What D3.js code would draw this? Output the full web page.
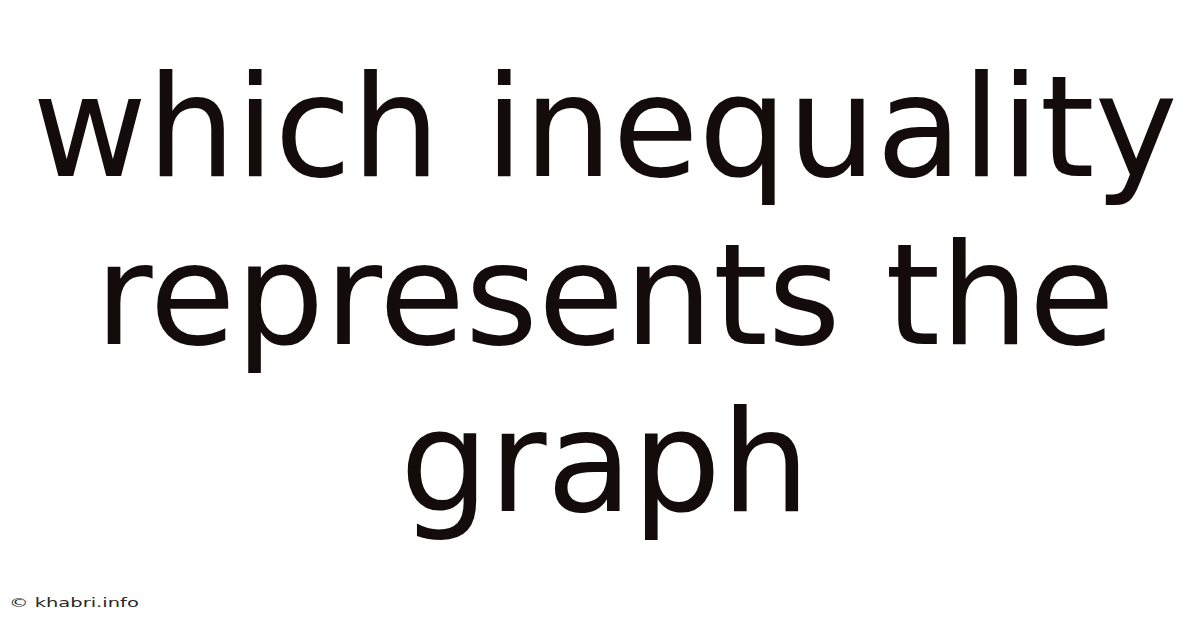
<script src="https://d3js.org/d3.v7.min.js"></script>

<style>
  body { margin: 0; background: #fff; }
</style>

<body>
  <div id="vis"></div>
</body>

<script>
  // Title lines and footer text
  const titleLines = ['which inequality', 'represents the', 'graph']
  const footerText = '\u00a9 khabri.info'

  const width = 1200
  const height = 628

  let svg = d3.select('#vis')
    .append('svg')
    .attr('width', width)
    .attr('height', height)

  svg.append('rect')
    .attr('width', width)
    .attr('height', height)
    .attr('fill', '#ffffff')

  // Baselines of each title line
  let y = d3.scalePoint()
    .domain(d3.range(titleLines.length))
    .range([176, 511])

  svg.selectAll('text.title')
    .data(titleLines)
    .enter()
    .append('text')
    .attr('class', 'title')
    .attr('x', 605)
    .attr('y', function (d, i) { return y(i) })
    .attr('text-anchor', 'middle')
    .style('font-family', '"DejaVu Sans", sans-serif')
    .style('font-size', '140px')
    .attr('fill', '#140c0c')
    .text(function (d) { return d })

  // footer is stretched sideways in the original
  svg.append('text')
    .attr('transform', 'translate(9,607) scale(1.5,1)')
    .style('font-family', '"DejaVu Sans", sans-serif')
    .style('font-size', '13px')
    .attr('fill', '#2a2a2a')
    .text(footerText)
</script>
